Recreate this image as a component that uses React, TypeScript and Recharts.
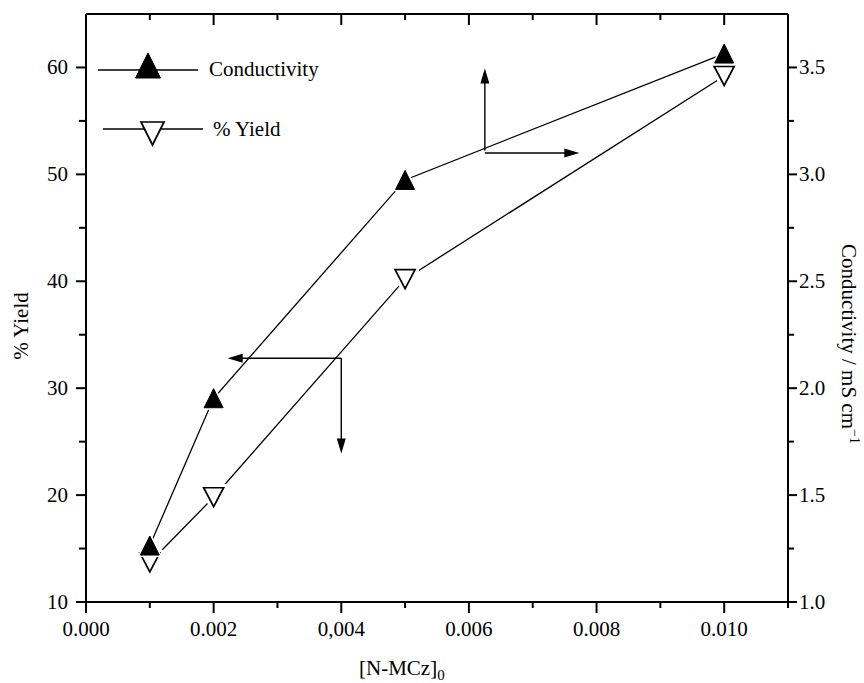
import { LineChart, Line, XAxis, YAxis, ReferenceLine, Legend } from 'recharts'

// [N-MCz]0 (mol/L) against conductivity (mS/cm) and % yield
const concentration = [0.001, 0.002, 0.005, 0.01]
const conductivity = [1.264, 1.953, 2.974, 3.565]
const yieldPct = [13.7, 19.8, 40.2, 59.2]

const xTicks = [0, 0.001, 0.002, 0.003, 0.004, 0.005, 0.006, 0.007, 0.008, 0.009, 0.01, 0.011]
const xTickLabels = ['0.000', '', '0.002', '', '0,004', '', '0.006', '', '0.008', '', '0.010', '']
const yieldTicks = [10, 15, 20, 25, 30, 35, 40, 45, 50, 55, 60]
const condTicks = [1.0, 1.25, 1.5, 1.75, 2.0, 2.25, 2.5, 2.75, 3.0, 3.25, 3.5]

// arrows that tie each curve to its axis (data coordinates)
const yieldArrow = { x: 0.004, y: 32.8, xTip: 0.00222, yTip: 23.9 }
const condArrow = { x: 0.00625, y: 3.11, yH: 3.1, yTip: 3.495, xTip: 0.00773 }

const legendItems = [
  { name: 'Conductivity', kind: 'up' },
  { name: '% Yield', kind: 'down' },
]

const FONT = '"Liberation Serif", "Times New Roman", serif'
const FS = 21
const TICK_W = 2
const TICK_C = '#000'

const rows = concentration.map((c, i) => ({ c, cond: conductivity[i], yld: yieldPct[i] }))

function labelFor(v: number) {
  const i = xTicks.findIndex((t) => Math.abs(t - v) < 1e-7)
  return i < 0 ? '' : xTickLabels[i]
}

function BottomTick({ x, y, payload }: any) {
  const label = labelFor(payload.value)
  const major = label !== ''
  return (
    <g>
      <line x1={x} y1={y} x2={x} y2={y + (major ? 11 : 6)} stroke={TICK_C} strokeWidth={TICK_W} />
      {major && (
        <text x={x} y={y + 34} textAnchor="middle" fontFamily={FONT} fontSize={FS} fill="#000">
          {label}
        </text>
      )}
    </g>
  )
}

function TopTick({ x, y, payload }: any) {
  const major = labelFor(payload.value) !== ''
  return <line x1={x} y1={y} x2={x} y2={y + (major ? 11 : 6)} stroke={TICK_C} strokeWidth={TICK_W} />
}

function LeftTick({ x, y, payload }: any) {
  const v = payload.value
  const major = v % 10 === 0
  return (
    <g>
      <line x1={x} y1={y} x2={x - (major ? 10 : 7)} y2={y} stroke={TICK_C} strokeWidth={TICK_W} />
      {major && (
        <text x={x - 18} y={y + 7} textAnchor="end" fontFamily={FONT} fontSize={FS} fill="#000">
          {v}
        </text>
      )}
    </g>
  )
}

function RightTick({ x, y, payload }: any) {
  const v = payload.value
  const major = Math.abs(v * 2 - Math.round(v * 2)) < 1e-6
  return (
    <g>
      <line x1={x} y1={y} x2={x + (major ? 9 : 6)} y2={y} stroke={TICK_C} strokeWidth={TICK_W} />
      {major && (
        <text x={x + 11} y={y + 7} textAnchor="start" fontFamily={FONT} fontSize={FS} fill="#000">
          {v.toFixed(1)}
        </text>
      )}
    </g>
  )
}

function tri(cx: number, cy: number, w: number, h: number, up: boolean) {
  return up
    ? `${cx},${cy - h / 2} ${cx - w / 2},${cy + h / 2} ${cx + w / 2},${cy + h / 2}`
    : `${cx - w / 2},${cy - h / 2} ${cx + w / 2},${cy - h / 2} ${cx},${cy + h / 2}`
}

function Marker({ cx, cy, kind, w = 19, h = 19, halo = 0 }: any) {
  const up = kind === 'up'
  const pts = tri(cx, cy, w, h, up)
  return (
    <g>
      {halo > 0 && <polygon points={pts} fill="#fff" stroke="#fff" strokeWidth={halo} strokeLinejoin="round" />}
      <polygon
        points={pts}
        fill={up ? '#000' : '#fff'}
        stroke="#000"
        strokeWidth={up ? 1 : 1.7}
        strokeLinejoin="miter"
      />
    </g>
  )
}

function ArrowShape({ x1, y1, x2, y2 }: any) {
  const dx = x2 - x1
  const dy = y2 - y1
  const len = Math.hypot(dx, dy) || 1
  const ux = dx / len
  const uy = dy / len
  const hl = 15
  const hw = 4.5
  const bx = x2 - ux * hl
  const by = y2 - uy * hl
  return (
    <g>
      <line x1={x1} y1={y1} x2={bx + ux * 2} y2={by + uy * 2} stroke="#000" strokeWidth={1.4} />
      <polygon
        points={`${x2},${y2} ${bx - uy * hw},${by + ux * hw} ${bx + uy * hw},${by - ux * hw}`}
        fill="#000"
      />
    </g>
  )
}

function LegendBox() {
  // two rows: sample line, marker, name
  const rowsGeo = [
    { y: 25, x0: 8, x1: 108, mx: 58, my: 20.5, w: 25, h: 25, tx: 119, ty: 31 },
    { y: 84, x0: 13, x1: 113, mx: 62.5, my: 88.5, w: 23, h: 23, tx: 123, ty: 91 },
  ]
  return (
    <svg width={260} height={110} style={{ display: 'block', overflow: 'visible' }}>
      {legendItems.map((it, i) => {
        const g = rowsGeo[i]
        return (
          <g key={it.name}>
            <line x1={g.x0} y1={g.y} x2={g.x1} y2={g.y} stroke="#000" strokeWidth={1.4} />
            <Marker cx={g.mx} cy={g.my} kind={it.kind} w={g.w} h={g.h} />
            <text x={g.tx} y={g.ty} fontFamily={FONT} fontSize={FS} fill="#000">
              {it.name}
            </text>
          </g>
        )
      })}
    </svg>
  )
}

export default function App() {
  return (
    <div style={{ position: 'absolute', left: 0, top: 0, width: 864, height: 683, background: '#fff' }}>
      <LineChart width={864} height={683} data={rows} margin={{ top: 13, right: 0, bottom: 0, left: 0 }}>
        <XAxis
          xAxisId="bottom"
          dataKey="c"
          type="number"
          domain={[0, 0.011]}
          ticks={xTicks}
          interval={0}
          height={81}
          tickSize={0}
          tickMargin={0}
          tickLine={false}
          axisLine={{ stroke: '#000', strokeWidth: 2 }}
          tick={(p: any) => <BottomTick key={`b${p.index}`} {...p} />}
          allowDataOverflow
          label={{
            content: ({ viewBox }: any) => (
              <text x={viewBox.x + 273} y={viewBox.y + 73} fontFamily={FONT} fontSize={FS} fill="#000">
                [N-MCz]
                <tspan dy={5} fontSize={15}>0</tspan>
              </text>
            ),
          }}
        />
        <XAxis
          xAxisId="top"
          orientation="top"
          dataKey="c"
          type="number"
          domain={[0, 0.011]}
          ticks={xTicks}
          interval={0}
          height={1}
          tickSize={0}
          tickMargin={0}
          tickLine={false}
          axisLine={{ stroke: '#000', strokeWidth: 2 }}
          tick={(p: any) => <TopTick key={`t${p.index}`} {...p} />}
          allowDataOverflow
        />
        <YAxis
          yAxisId="left"
          type="number"
          domain={[10, 65]}
          ticks={yieldTicks}
          interval={0}
          width={86}
          tickSize={0}
          tickMargin={0}
          tickLine={false}
          axisLine={{ stroke: '#000', strokeWidth: 2 }}
          tick={(p: any) => <LeftTick key={`l${p.index}`} {...p} />}
          allowDataOverflow
          label={{
            content: ({ viewBox }: any) => (
              <text
                x={0}
                y={0}
                transform={`translate(${viewBox.x + 28}, ${viewBox.y + 312}) rotate(-90)`}
                textAnchor="middle"
                fontFamily={FONT}
                fontSize={FS}
                fill="#000"
              >
                % Yield
              </text>
            ),
          }}
        />
        <YAxis
          yAxisId="right"
          orientation="right"
          type="number"
          domain={[1, 3.75]}
          ticks={condTicks}
          interval={0}
          width={76}
          tickSize={0}
          tickMargin={0}
          tickLine={false}
          axisLine={{ stroke: '#000', strokeWidth: 2 }}
          tick={(p: any) => <RightTick key={`r${p.index}`} {...p} />}
          allowDataOverflow
          label={{
            content: ({ viewBox }: any) => (
              <text
                x={0}
                y={0}
                transform={`translate(${viewBox.x + 54}, ${viewBox.y + 330}) rotate(90)`}
                textAnchor="middle"
                fontFamily={FONT}
                fontSize={FS}
                fill="#000"
              >
                Conductivity / mS cm
                <tspan dy={-8} fontSize={14}>−1</tspan>
              </text>
            ),
          }}
        />

        <ReferenceLine
          xAxisId="bottom"
          yAxisId="left"
          ifOverflow="visible"
          segment={[{ x: yieldArrow.x, y: yieldArrow.y }, { x: yieldArrow.xTip, y: yieldArrow.y }]}
          shape={(p: any) => <ArrowShape {...p} />}
        />
        <ReferenceLine
          xAxisId="bottom"
          yAxisId="left"
          ifOverflow="visible"
          segment={[{ x: yieldArrow.x, y: yieldArrow.y }, { x: yieldArrow.x, y: yieldArrow.yTip }]}
          shape={(p: any) => <ArrowShape {...p} />}
        />
        <ReferenceLine
          xAxisId="bottom"
          yAxisId="right"
          ifOverflow="visible"
          segment={[{ x: condArrow.x, y: condArrow.y }, { x: condArrow.x, y: condArrow.yTip }]}
          shape={(p: any) => <ArrowShape {...p} />}
        />
        <ReferenceLine
          xAxisId="bottom"
          yAxisId="right"
          ifOverflow="visible"
          segment={[{ x: condArrow.x, y: condArrow.yH }, { x: condArrow.xTip, y: condArrow.yH }]}
          shape={(p: any) => <ArrowShape {...p} />}
        />

        <Line
          xAxisId="bottom"
          yAxisId="left"
          dataKey="yld"
          name="% Yield"
          type="linear"
          stroke="#000"
          strokeWidth={1.3}
          isAnimationActive={false}
          dot={(p: any) => <Marker key={`y${p.index}`} cx={p.cx} cy={p.cy} kind="down" w={20} h={19} halo={8} />}
        />
        <Line
          xAxisId="bottom"
          yAxisId="right"
          dataKey="cond"
          name="Conductivity"
          type="linear"
          stroke="#000"
          strokeWidth={1.3}
          isAnimationActive={false}
          dot={(p: any) => <Marker key={`c${p.index}`} cx={p.cx} cy={p.cy} kind="up" w={19} h={19} halo={4} />}
        />

        <Legend
          layout="horizontal"
          verticalAlign="middle"
          align="center"
          wrapperStyle={{ position: 'absolute', left: 90, top: 45, width: 260, height: 110 }}
          content={() => <LegendBox />}
        />
      </LineChart>
    </div>
  )
}
